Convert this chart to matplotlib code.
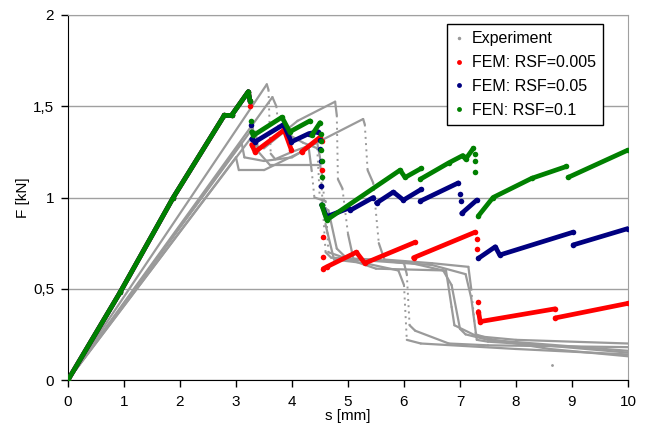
import numpy as np
import matplotlib.pyplot as plt
from matplotlib.lines import Line2D

plt.rcParams['font.family'] = ['Liberation Sans', 'DejaVu Sans']

# ---- data (s [mm], F [kN]) ----
# FEM: shared elastic branch
fem_init = [(0, 0), (0.93, 0.48), (1.88, 1.0), (2.79, 1.45), (2.92, 1.45),
            (3.22, 1.58), (3.25, 1.53)]

# each FEM curve as list of segments (single point = isolated dot)
fem_red = [
    [(3.25, 1.50)],
    [(3.28, 1.29), (3.34, 1.25), (3.86, 1.37), (3.99, 1.26)],
    [(4.17, 1.25), (4.5, 1.33)],
    [(4.53, 1.31)], [(4.54, 1.15)], [(4.55, 0.785)], [(4.55, 0.676)],
    [(4.56, 0.61), (4.62, 0.62), (5.15, 0.70), (5.30, 0.64), (6.2, 0.755)],
    [(6.17, 0.67), (7.27, 0.81)],
    [(7.3, 0.77)], [(7.3, 0.72)], [(7.32, 0.43)],
    [(7.33, 0.375), (7.36, 0.32), (8.7, 0.39)],
    [(8.7, 0.34), (10, 0.42)],
]
fem_blue = [
    [(3.27, 1.40)],
    [(3.28, 1.32), (3.34, 1.305), (3.85, 1.40), (3.99, 1.305), (4.3, 1.35), (4.47, 1.36)],
    [(4.5, 1.315)], [(4.5, 1.265)], [(4.51, 1.20)], [(4.52, 1.063)],
    [(4.53, 0.96), (4.62, 0.895), (5.0, 0.94)],
    [(5.04, 0.93), (5.45, 1.0)],
    [(5.51, 0.97), (5.81, 1.03), (5.99, 0.986), (6.31, 1.045)],
    [(6.29, 0.98), (6.97, 1.08)],
    [(7.0, 1.02)], [(7.01, 0.98)],
    [(7.03, 0.913), (7.3, 0.986)],
    [(7.33, 0.667), (7.63, 0.73), (7.71, 0.685), (9.02, 0.81)],
    [(9.02, 0.74), (10, 0.83)],
]
fem_green = [
    [(3.26, 1.42)],
    [(3.28, 1.36), (3.31, 1.34), (3.82, 1.44), (3.96, 1.36), (4.32, 1.42)],
    [(4.35, 1.34), (4.5, 1.41)],
    [(4.51, 1.35)], [(4.51, 1.31)], [(4.52, 1.26)], [(4.53, 1.20)], [(4.53, 1.11)],
    [(4.53, 0.96), (4.62, 0.877), (5.93, 1.15), (6.02, 1.11), (6.31, 1.16)],
    [(6.29, 1.10), (6.8, 1.19), (7.05, 1.23), (7.1, 1.21), (7.24, 1.27)],
    [(7.27, 1.24)], [(7.27, 1.20)], [(7.27, 1.14)],
    [(7.33, 0.90), (7.59, 1.0), (8.28, 1.105), (8.9, 1.17)],
    [(8.93, 1.11), (10, 1.26)],
]

# experiments
exp1 = [(0, 0), (3.55, 1.62), (3.58, 1.59), (3.6, 1.40), (3.62, 1.24), (3.7, 1.21),
        (4.0, 1.25), (4.45, 1.30), (4.5, 1.22), (4.55, 0.95), (4.6, 0.70), (4.7, 0.67),
        (5.5, 0.66), (6.0, 0.64), (6.05, 0.58), (6.1, 0.30), (6.2, 0.27), (6.8, 0.20),
        (7.5, 0.19), (10, 0.18)]
exp2 = [(0, 0), (3.65, 1.55), (3.72, 1.50), (3.76, 1.38), (3.82, 1.40), (3.85, 1.36),
        (4.2, 1.30), (4.45, 1.27), (4.48, 1.10), (4.5, 0.96), (4.65, 0.93), (4.8, 0.72),
        (5.0, 0.66), (6.0, 0.65), (6.7, 0.60), (6.85, 0.52), (7.0, 0.28), (7.1, 0.25),
        (7.5, 0.22), (10, 0.16)]
exp3 = [(0, 0), (3.3, 1.38), (3.35, 1.28), (3.5, 1.27), (4.1, 1.42), (4.77, 1.525),
        (4.8, 1.45), (4.82, 1.10), (4.9, 1.05), (5.0, 0.80), (5.1, 0.66), (6.5, 0.63),
        (7.1, 0.58), (7.2, 0.45), (7.3, 0.22), (7.5, 0.21), (8.5, 0.19), (10, 0.15)]
exp4 = [(0, 0), (3.1, 1.30), (3.15, 1.22), (3.5, 1.20), (4.0, 1.22), (4.44, 1.30),
        (5.27, 1.43), (5.3, 1.40), (5.35, 1.15), (5.45, 1.08), (5.55, 0.75), (5.65, 0.66),
        (6.5, 0.64), (7.15, 0.62), (7.2, 0.50), (7.28, 0.25), (7.6, 0.22), (8.6, 0.17),
        (10, 0.13)]
exp5 = [(0, 0), (3.35, 1.36), (3.4, 1.25), (3.6, 1.18), (4.5, 1.18), (4.55, 1.10),
        (4.6, 0.85), (4.75, 0.66), (5.3, 0.64), (5.9, 0.60), (6.0, 0.52), (6.05, 0.22),
        (6.3, 0.20), (8.0, 0.17), (10, 0.14)]
exp6 = [(0, 0), (3.0, 1.22), (3.05, 1.15), (3.5, 1.15), (4.3, 1.27), (4.35, 1.15),
        (4.4, 1.0), (4.6, 0.98), (4.65, 0.70), (5.5, 0.61), (6.75, 0.60), (6.85, 0.40),
        (6.9, 0.30), (7.3, 0.24), (8.0, 0.22), (10, 0.20)]
exp_stray = [(8.65, 0.08)]

gray = '#9a9a9a'
fem_colors = ['#ff0000', '#000080', '#008000']
fem_labels = ['FEM: RSF=0.005', 'FEM: RSF=0.05', 'FEN: RSF=0.1']


def join_segments(segs):
    s, F = [], []
    for seg in segs:
        for p in seg:
            s.append(p[0]); F.append(p[1])
        s.append(np.nan); F.append(np.nan)
    return np.array(s), np.array(F)


fig = plt.figure(figsize=(6.48, 4.32), dpi=100)
ax = fig.add_axes([68/648, 52/432, 560/648, 365/432])

# experiments: steep drops are sparse points -> dotted
for curve in [exp1, exp2, exp3, exp4, exp5, exp6]:
    c = np.array(curve)
    for i in range(len(c) - 1):
        ds = c[i+1, 0] - c[i, 0]
        dF = c[i+1, 1] - c[i, 1]
        steep = abs(dF) > 2.5 * max(ds, 1e-9)
        if steep:
            ax.plot(c[i:i+2, 0], c[i:i+2, 1], color=gray, lw=1.4,
                    linestyle=(0, (1, 2.2)), zorder=2)
        else:
            ax.plot(c[i:i+2, 0], c[i:i+2, 1], color=gray, lw=1.6,
                    solid_capstyle='round', zorder=2)
st = np.array(exp_stray)
ax.plot(st[:, 0], st[:, 1], '.', color=gray, ms=2, zorder=2)

for segs, col in zip([fem_red, fem_blue, fem_green], fem_colors):
    s, F = join_segments([fem_init] + segs)
    ax.plot(s, F, color=col, lw=3.4, marker='o', ms=4, mew=0,
            solid_capstyle='round', zorder=3)

ax.set_xlim(0, 10)
ax.set_ylim(0, 2)
ax.set_xticks(np.arange(0, 11, 1))
ax.set_yticks([0, 0.5, 1, 1.5, 2])
ax.set_yticklabels(['0', '0,5', '1', '1,5', '2'])
ax.tick_params(direction='out', length=5, width=1, labelsize=11)
ax.tick_params(axis='x', pad=6)
ax.tick_params(axis='y', pad=5)
ax.yaxis.grid(True, color='#a0a0a0', lw=1)
ax.set_axisbelow(True)
for side in ['top', 'right']:
    ax.spines[side].set_color('#a0a0a0')
for side in ['left', 'bottom']:
    ax.spines[side].set_color('black')

ax.set_xlabel('s [mm]', fontsize=11, labelpad=0)
ax.set_ylabel('F [kN]', fontsize=11, labelpad=2)

handles = [Line2D([], [], ls='none', marker='.', color=gray, ms=3)]
for col in fem_colors:
    handles.append(Line2D([], [], ls='none', marker='o', color=col, ms=3.5, mew=0))
leg = ax.legend(handles, ['Experiment'] + fem_labels, loc='upper left',
                bbox_to_anchor=(0.677, 0.975), fontsize=11.5, frameon=True,
                fancybox=False, edgecolor='black', framealpha=1,
                handlelength=0.6, handletextpad=0.5, labelspacing=0.55,
                borderpad=0.45, borderaxespad=0)
leg.get_frame().set_linewidth(1)

plt.savefig('out.png', dpi=100)
